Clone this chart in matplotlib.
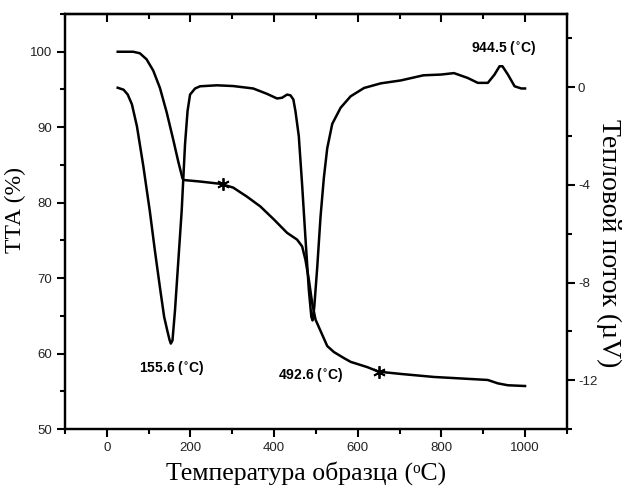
import matplotlib
matplotlib.use('Agg')
import matplotlib.pyplot as plt
from matplotlib.ticker import MultipleLocator

# TGA curve (left axis, %)
tga_t = [26, 45, 63, 79, 95, 111, 127, 143, 159, 171, 181, 184, 223, 271, 302,
         335, 367, 399, 431, 455, 467, 475, 483, 491, 499, 511, 527, 543, 567,
         583, 623, 650, 703, 782, 847, 911, 935, 959, 1000]
tga_v = [100.0, 100.0, 100.0, 99.8, 99.0, 97.5, 95.2, 92.0, 88.3, 85.4, 83.2,
         83.0, 82.8, 82.5, 82.0, 80.8, 79.5, 77.8, 76.0, 75.1, 74.2, 72.4, 69.8,
         66.7, 64.5, 63.0, 61.0, 60.2, 59.4, 58.9, 58.2, 57.6, 57.3, 56.9, 56.7,
         56.5, 56.05, 55.8, 55.7]

# DTA curve (right axis, uV)
dta_t = [26, 40, 50, 60, 72, 87, 103, 115, 127, 137, 145, 150, 153, 157, 163,
         171, 179, 187, 193, 199, 211, 223, 263, 302, 350, 383, 407, 419, 431,
         439, 446, 451, 459, 467, 475, 483, 489, 492, 496, 503, 511, 519, 527,
         539, 559, 583, 615, 655, 703, 757, 799, 830, 863, 887, 911, 927, 939,
         946, 959, 975, 991, 1000]
dta_v = [-0.02, -0.1, -0.3, -0.7, -1.6, -3.2, -5.1, -6.7, -8.2, -9.4, -10.0,
         -10.35, -10.5, -10.37, -9.14, -7.1, -5.06, -2.33, -0.98, -0.3, -0.05,
         0.04, 0.08, 0.05, -0.05, -0.27, -0.46, -0.43, -0.3, -0.33, -0.5, -0.98,
         -2.0, -4.0, -6.2, -8.3, -9.4, -9.55, -9.0, -7.4, -5.3, -3.7, -2.5,
         -1.5, -0.84, -0.37, -0.03, 0.16, 0.28, 0.49, 0.52, 0.58, 0.38, 0.18,
         0.18, 0.52, 0.86, 0.86, 0.52, 0.04, -0.05, -0.05]

star_t = [278, 650]
star_v = [82.5, 57.5]

peaks = ['155.6', '492.6', '944.5']

plt.rcParams['font.family'] = ['Liberation Sans', 'DejaVu Sans']
plt.rcParams['axes.unicode_minus'] = False

fig = plt.figure(figsize=(6.25, 4.92), dpi=100)
ax = fig.add_axes([0.104, 0.128, 0.803, 0.8435])
ax2 = ax.twinx()

ax.plot(tga_t, tga_v, color='black', lw=1.8)
ax.plot(star_t, star_v, ls='none', marker=(6, 2, 0), ms=9, mew=1.3, color='black')
ax2.plot(dta_t, dta_v, color='black', lw=1.8)

ax.set_xlim(-100, 1100)
ax.set_ylim(50, 105)
ax2.set_ylim(-14, 3)

ax.xaxis.set_major_locator(MultipleLocator(200))
ax.xaxis.set_minor_locator(MultipleLocator(100))
ax.yaxis.set_major_locator(MultipleLocator(10))
ax.yaxis.set_minor_locator(MultipleLocator(5))
ax2.yaxis.set_major_locator(MultipleLocator(4))
ax2.yaxis.set_minor_locator(MultipleLocator(2))

for a in (ax, ax2):
    for s in a.spines.values():
        s.set_linewidth(1.6)
ax.tick_params(which='major', direction='out', length=6, width=1.5, labelsize=9.5,
               labelcolor='#222222')
ax.tick_params(which='minor', direction='out', length=3.5, width=1.5)
ax2.tick_params(which='major', direction='out', length=6, width=1.5, labelsize=9.5,
                labelcolor='#222222', pad=2)
ax2.tick_params(which='minor', direction='out', length=3.5, width=1.5)

# top ticks point inward
top = ax.secondary_xaxis('top')
top.xaxis.set_major_locator(MultipleLocator(200))
top.xaxis.set_minor_locator(MultipleLocator(100))
top.tick_params(which='major', direction='in', length=6, width=1.5, labeltop=False)
top.tick_params(which='minor', direction='in', length=3.5, width=1.5)
top.spines['top'].set_linewidth(1.6)

serif = ['Liberation Serif', 'DejaVu Serif']
ax.set_xlabel('Температура образца (ᵒC)', family=serif, fontsize=18.5, va='center')
ax.xaxis.set_label_coords(0.48, -0.106)
ax.set_ylabel('ТТА (%)', family=serif, fontsize=17, va='center')
ax.yaxis.set_label_coords(-0.098, 0.528)
ax2.set_ylabel('Тепловой поток (µV)', family=serif, fontsize=20, rotation=270,
               va='center')
ax2.yaxis.set_label_coords(1.084, 0.448)

deg = ' ($\\mathbf{^{\\circ}}$C)'
ax.text(156, 58.1, peaks[0] + deg, ha='center', va='center',
        fontsize=10, fontweight='bold')
ax.text(487, 57.2, peaks[1] + deg, ha='center', va='center',
        fontsize=10, fontweight='bold')
ax.text(950, 100.5, peaks[2] + deg, ha='center', va='center',
        fontsize=10, fontweight='bold')

fig.savefig('out.png', dpi=100)
